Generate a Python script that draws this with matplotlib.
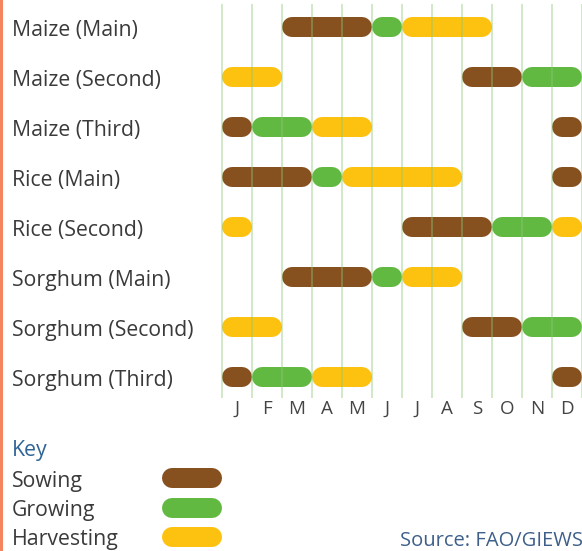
import matplotlib
matplotlib.use("Agg")
import matplotlib.pyplot as plt
from matplotlib.transforms import blended_transform_factory

plt.rcParams['font.family'] = ['Open Sans', 'DejaVu Sans']

crops = ["Maize (Main)", "Maize (Second)", "Maize (Third)", "Rice (Main)",
         "Rice (Second)", "Sorghum (Main)", "Sorghum (Second)", "Sorghum (Third)"]
months = ["J", "F", "M", "A", "M", "J", "J", "A", "S", "O", "N", "D"]

# (start month index, end month index exclusive) per crop per stage
sowing = [[(2, 5)], [(8, 10)], [(0, 1), (11, 12)], [(0, 3), (11, 12)],
          [(6, 9)], [(2, 5)], [(8, 10)], [(0, 1), (11, 12)]]
growing = [[(5, 6)], [(10, 12)], [(1, 3)], [(3, 4)],
           [(9, 11)], [(5, 6)], [(10, 12)], [(1, 3)]]
harvesting = [[(6, 9)], [(0, 2)], [(3, 5)], [(4, 8)],
              [(0, 1), (11, 12)], [(6, 8)], [(0, 2)], [(3, 5)]]

stages = ["Sowing", "Growing", "Harvesting"]
colors = {"Sowing": "#87501f", "Growing": "#62b942", "Harvesting": "#fdc20f"}
stage_data = {"Sowing": sowing, "Growing": growing, "Harvesting": harvesting}

TXT = "#3a3a3a"
FS = 15.3

W, H = 582, 551
fig = plt.figure(figsize=(W / 100, H / 100), dpi=100)
fig.patch.set_facecolor("white")

# main calendar axes: px 222..582 horizontally, 5..397 vertically
ax = fig.add_axes([222 / W, 1 - 397 / H, 360 / W, 392 / H])
ax.set_xlim(0, 12)
ax.set_ylim(7.4, -0.44)
for s in ax.spines.values():
    s.set_visible(False)
ax.set_facecolor("none")

bar_px = 20
lw_pt = bar_px * 72 / 100
cap = (bar_px / 2) / 30.0  # month units

for st in stages:
    for i, segs in enumerate(stage_data[st]):
        for a, b in segs:
            ax.plot([a + cap, b - cap], [i, i], color=colors[st], lw=lw_pt,
                    solid_capstyle="round", zorder=2)

for k in range(13):
    ax.axvline(k, color="#8cc97a", alpha=0.4, lw=2 * 72 / 100, zorder=3,
               clip_on=False)

ax.set_xticks([k + 0.5 for k in range(12)])
ax.set_xticklabels(months, fontsize=13.5, color="#444444")
ax.tick_params(axis="x", length=0, pad=2)
ax.set_yticks([])

tr = blended_transform_factory(fig.transFigure, ax.transData)
for i, c in enumerate(crops):
    ax.text(12 / W, i + 0.18, c, transform=tr, ha="left", va="baseline",
            fontsize=FS, color=TXT)

# left border
fig.add_artist(plt.Rectangle((0, 0), 3 / W, 1, transform=fig.transFigure,
                             color="#f4845f", lw=0))

# key (pixel-coordinate overlay axes)
kax = fig.add_axes([0, 0, 1, 1])
kax.set_xlim(0, W)
kax.set_ylim(H, 0)
kax.axis("off")
kax.patch.set_alpha(0)
kax.text(12, 456, "Key", fontsize=FS, color="#2f6496", ha="left",
         va="baseline")
for j, st in enumerate(stages):
    y = 478 + 29.5 * j
    kax.text(12, 487 + 29 * j, st, fontsize=FS, color=TXT, ha="left",
             va="baseline")
    kax.plot([162 + 10, 222 - 10], [y, y], color=colors[st], lw=lw_pt,
             solid_capstyle="round")

kax.text(583, 546, "Source: FAO/GIEWS", fontsize=14.5, color="#3d5f8a",
         ha="right", va="baseline")

fig.savefig("out.png", dpi=100, facecolor="white")
